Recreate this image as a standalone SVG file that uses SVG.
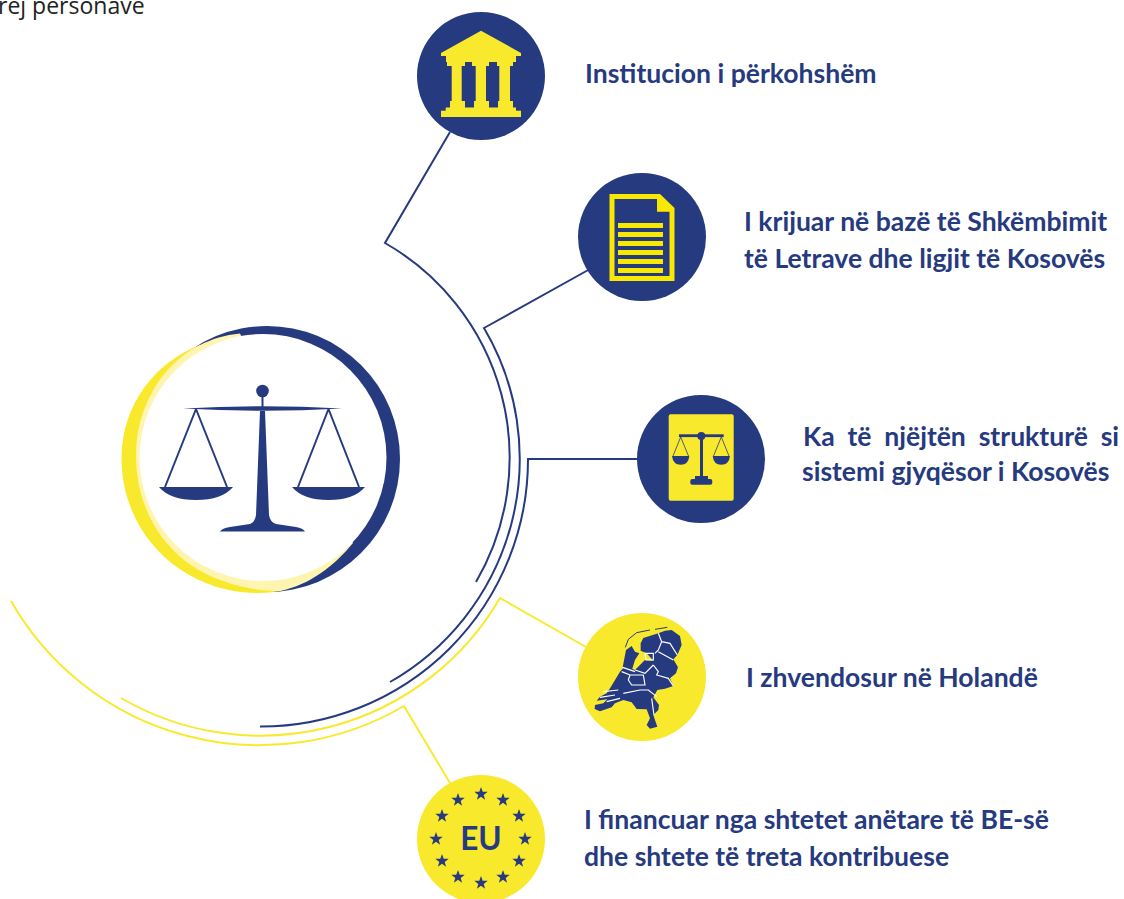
<svg xmlns="http://www.w3.org/2000/svg" width="1124" height="899" viewBox="0 0 1124 899">
<style>
.t{font-family:Lato,"Liberation Sans",sans-serif;font-weight:700;font-size:26.550px;fill:#263a80}
.n{fill:none;stroke:#263a80;stroke-width:2}
.y{fill:none;stroke:#f9e92d;stroke-width:2}
.b{fill:#263a80}
.g{fill:#f9e92d}
.gl{fill:#f9e800}
</style>
<defs>
<polygon id="s" points="0,-7 1.7,-2.2 6.7,-2.2 2.7,0.9 4.1,5.7 0,2.8 -4.1,5.7 -2.7,0.9 -6.7,-2.2 -1.7,-2.2"/>
</defs>
<rect width="1124" height="899" fill="#fff"/>
<text x="-2" y="14" style="font-family:'Open Sans','Liberation Sans',sans-serif;font-size:23px;fill:#222">rej personave</text>
<g id="connectors">
<path class="n" d="M450,132 L385,243 A247,247 0 0 1 476,582"/>
<path class="n" d="M590,269 L484,328 A257,257 0 0 1 390,682"/>
<path class="n" d="M638,459 H528 A267,267 0 0 1 260,726.500"/>
<path class="y" d="M586,647 L500,598 A277,277 0 0 1 121,698"/>
<path class="y" d="M450,783 L404,706 A286,286 0 0 1 11,601"/>
</g>
<g id="justice">
<circle class="b" cx="267" cy="459" r="133"/>
<path class="g" d="M200,345 C155,362 121.500,405 121.500,458 C121.500,535 183,593 258,593 C268,593 276,592 283,590 L300,460Z"/>
<path fill="#fff5b0" d="M240,333.500 C225,335 212,339 200,345 C160,365 136,410 136,455 C136,515 170,560 215,578 C240,588 262,591 280,591 C310,585 335,565 353,543 L300,460Z"/>
<circle fill="#fff" cx="263" cy="457.500" r="123.500"/>
<g id="scale">
<circle class="b" cx="262.500" cy="391" r="6.300"/>
<rect class="b" x="261.500" y="395" width="2" height="12"/>
<path class="b" d="M183,408.500 Q262,404 342,408.500 Q262,413 183,408.500Z"/>
<path class="b" d="M260,411 H265 L269,515 Q270,522 276,524 L296,527 Q303,528 305,531.500 H220 Q222,528 230,527 L250,524 Q255,522 256,515Z"/>
<path class="n" d="M196,409 L165,487 M196,409 L227,487 M328.500,409 L298,487 M328.500,409 L359,487"/>
<path class="b" d="M159,487 H233 Q222,500 196,500 Q170,500 159,487Z"/>
<path class="b" d="M292,487 H365 Q354,500 328.500,500 Q303,500 292,487Z"/>
</g>
</g>
<g id="n1">
<circle class="b" cx="481" cy="76" r="64"/>
<g class="g">
<path d="M481,30.700 L521,53 V56 H516 V62 H446 V56 H441 V53Z"/>
<rect x="447" y="62" width="18" height="4"/><rect x="472" y="62" width="17" height="4"/><rect x="497" y="62" width="16" height="4"/>
<rect x="451.700" y="66" width="10" height="36"/><rect x="475.700" y="66" width="10.300" height="36"/><rect x="499.300" y="66" width="10.700" height="36"/>
<rect x="450" y="101" width="15" height="7"/><rect x="474" y="101" width="15" height="7"/><rect x="498" y="101" width="15" height="7"/>
<rect x="445.700" y="107.500" width="70.300" height="4"/>
<rect x="441" y="110.700" width="80" height="6.300"/>
</g>
<text class="t" x="585" y="83">Institucion i përkohshëm</text>
</g>
<g id="n2">
<circle class="b" cx="642" cy="237" r="64"/>
<path class="gl" d="M609.500,194 H660 L674.500,208 V281 H609.500Z"/>
<path class="b" d="M614.500,199 H657 V211.700 H669.500 V276 H614.500Z"/>
<g class="gl"><rect x="618" y="223" width="45" height="5"/><rect x="618" y="232" width="45" height="5"/><rect x="618" y="241" width="45" height="5"/><rect x="618" y="250" width="45" height="5"/><rect x="618" y="259" width="45" height="5"/><rect x="618" y="268" width="45" height="5"/></g>
<text class="t" x="744" y="231">I krijuar në bazë të Shkëmbimit</text>
<text class="t" x="744" y="268">të Letrave dhe ligjit të Kosovës</text>
</g>
<g id="n3">
<circle class="b" cx="701" cy="459" r="64"/>
<rect class="g" x="668.700" y="414.300" width="65" height="86.400" rx="2"/>
<g>
<circle class="b" cx="701.300" cy="436" r="4"/>
<rect class="b" x="679" y="434.300" width="44.700" height="2.800"/>
<rect class="b" x="700" y="436" width="3" height="42"/>
<rect class="b" x="695" y="476" width="13" height="3"/>
<rect class="b" x="690.300" y="479" width="22" height="5.700" rx="2"/>
<path class="b" d="M672,456 H689.300 Q688.500,464.700 680.700,464.700 Q673,464.700 672,456Z M712.700,456 H730 Q729,464.700 721.300,464.700 Q713.500,464.700 712.700,456Z"/>
<path d="M680.700,437 L673,456 M680.700,437 L688.500,456 M721.300,437 L713.500,456 M721.300,437 L729,456" fill="none" stroke="#263a80" stroke-width="0.800"/>
</g>
<text class="t" x="803" y="446" word-spacing="6.400">Ka të njëjtën strukturë si</text>
<text class="t" x="802" y="481">sistemi gjyqësor i Kosovës</text>
</g>
<g id="n4">
<circle class="g" cx="642" cy="677" r="64"/>
<g transform="translate(590,610) scale(.3333)">
<path class="b" d="M152,100 L160,84 205,70 225,62 245,60 270,78 275,105 262,135 250,148 264,172 258,190 240,205 250,228 225,236 202,240 190,262 207,285 205,300 190,315 195,330 202,350 180,356 170,345 180,325 170,298 140,297 125,277 100,270 75,280 65,292 30,304 14,297 15,285 40,280 52,268 20,272 30,260 50,250 62,232 90,185 105,168 135,180 165,150 190,152 170,130 152,122Z"/>
<path class="b" d="M98,172 L108,120 125,108 135,125 148,130 135,150 125,182Z"/>
<path fill="none" stroke="#263a80" stroke-width="3" d="M106,112 L115,88 140,68 180,60 M195,58 L232,52"/>
<path fill="none" stroke="#fff" stroke-width="3.500" d="M205,70 L215,95 205,120 195,130 M215,95 L240,100 262,135 M205,125 L250,150 M165,130 H190 V150 H168Z M190,165 L205,185 200,195 235,205 250,228 M135,180 L165,190 190,165 M95,185 L120,195 160,195 165,225 125,225 115,210 120,195 M100,250 L150,240 175,240 200,260 M98,172 L135,185 M185,265 L192,315 M40,245 L85,240 M30,262 L75,255 M50,275 L90,265"/>
</g>
<text class="t" x="746" y="687">I zhvendosur në Holandë</text>
</g>
<g id="n5">
<circle class="g" cx="481" cy="839" r="64"/>
<g class="b">
<use href="#s" x="481" y="794"/><use href="#s" x="503" y="800"/><use href="#s" x="519" y="816"/><use href="#s" x="525" y="839"/><use href="#s" x="519" y="861"/><use href="#s" x="503" y="877"/><use href="#s" x="481" y="883"/><use href="#s" x="458" y="877"/><use href="#s" x="442" y="861"/><use href="#s" x="436" y="839"/><use href="#s" x="442" y="816"/><use href="#s" x="458" y="800"/>
</g>
<text x="481" y="850" text-anchor="middle" style="font-family:Lato,'Liberation Sans',sans-serif;font-weight:700;font-size:31.500px;fill:#263a80">EU</text>
<text class="t" x="584" y="829">I financuar nga shtetet anëtare të BE-së</text>
<text class="t" x="584" y="866">dhe shtete të treta kontribuese</text>
</g>
</svg>
